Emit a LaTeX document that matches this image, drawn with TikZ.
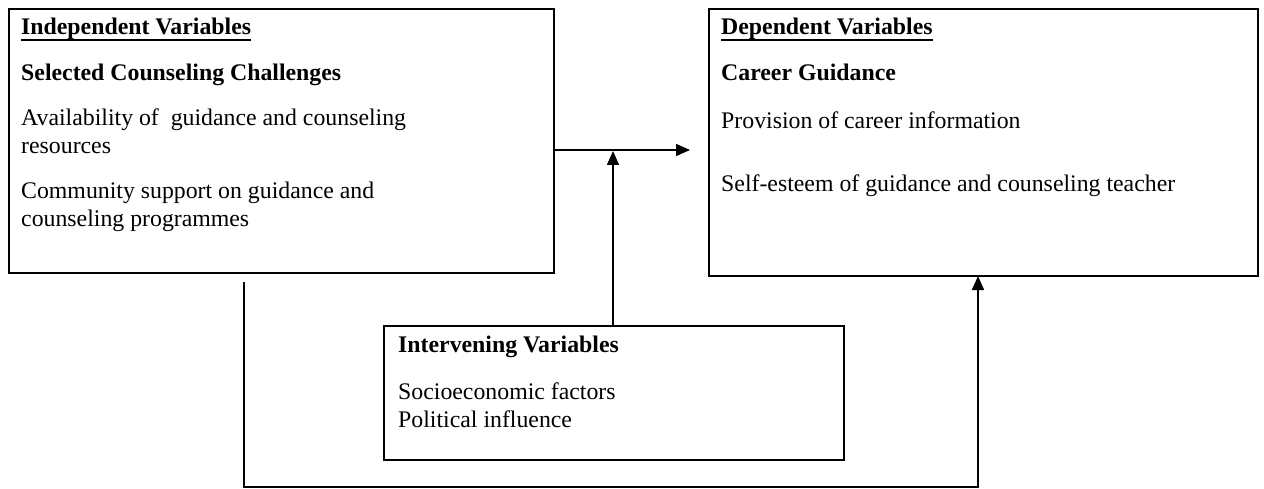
\documentclass[tikz,border=0pt]{standalone}
\usepackage{fontspec}
\setmainfont{Liberation Serif}
\usetikzlibrary{arrows.meta}
\begin{document}
\begin{tikzpicture}[x=1pt,y=-1pt,
  box/.style={draw=black,line width=2pt,inner sep=0pt,anchor=north west},
  txt/.style={anchor=base west,inner sep=0pt,font=\fontsize{23.8}{28}\selectfont},
  btxt/.style={txt,font=\fontsize{23.8}{28}\selectfont\bfseries},
  ul/.style={line width=1.8pt,black},
  conn/.style={line width=1.6pt,black},
  arr/.style={conn,-{Triangle[length=14pt,width=12pt]}}]
\useasboundingbox (0,0) rectangle (1264,489);
% boxes
\node[box,minimum width=545pt,minimum height=264pt] (ind) at (8,8) {};
\node[box,minimum width=549pt,minimum height=267pt] (dep) at (708,8) {};
\node[box,minimum width=460pt,minimum height=134pt] (int) at (383,325) {};
% left box text
\node[btxt] (t1) at (21,35) {Independent Variables};
\draw[ul] ([yshift=-5pt]t1.base west) -- ([yshift=-5pt]t1.base east);
\node[btxt] (t2) at (21,81) {Selected Counseling Challenges};
\node[txt] (t3) at (21,126) {Availability of\ \ guidance and counseling};
\node[txt] (t4) at (21,154) {resources};
\node[txt] (t5) at (21,199) {Community support on guidance and};
\node[txt] (t6) at (21,227) {counseling programmes};
% right box text
\node[btxt] (d1) at (721,35) {Dependent Variables};
\draw[ul] ([yshift=-5pt]d1.base west) -- ([yshift=-5pt]d1.base east);
\node[btxt] (d2) at (721,81) {Career Guidance};
\node[txt] (d3) at (721,129) {Provision of career information};
\node[txt] (d4) at (721,192) {Self-esteem of guidance and counseling teacher};
% intervening text
\node[btxt] (i1) at (398,352) {Intervening Variables};
\node[txt] (i2) at (398,399) {Socioeconomic factors};
\node[txt] (i3) at (398,427) {Political influence};
% connectors
\coordinate (h1) at (555,150);
\coordinate (h2) at (690,150);
\coordinate (v1) at (613,325);
\coordinate (v2) at (613,151);
\coordinate (b1) at (244,282);
\coordinate (b2) at (978,487);
\coordinate (b3) at (978,276);
\draw[arr] (h1) -- (h2);
\draw[arr] (v1) -- (v2);
\draw[arr] (b1) |- (b2) -- (b3);
\end{tikzpicture}
\end{document}
